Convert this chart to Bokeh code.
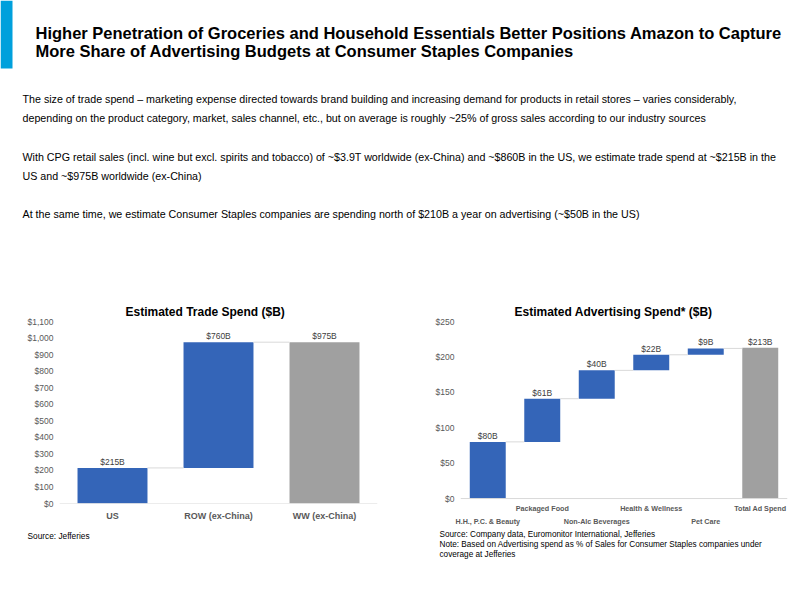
from bokeh.plotting import figure
from bokeh.layouts import column, row
from bokeh.models import Range1d, Label, FixedTicker, LinearAxis, NumeralTickFormatter, Span
from bokeh.embed import file_html
from bokeh.resources import INLINE
from bokeh.core.properties import value
import numpy as np

FONT = "Liberation Sans"
BLUE = "#3465B8"
GRAY = "#A0A0A0"
CONN = "#D9D9D9"
TICKC = "#595959"
LABC = "#404040"
ACCENT = "#00A0DC"

# ---------------- data ----------------
title_lines = [
    "Higher Penetration of Groceries and Household Essentials Better Positions Amazon to Capture",
    "More Share of Advertising Budgets at Consumer Staples Companies",
]
body_lines = [
    "The size of trade spend \u2013 marketing expense directed towards brand building and increasing demand for products in retail stores \u2013 varies considerably,",
    "depending on the product category, market, sales channel, etc., but on average is roughly ~25% of gross sales according to our industry sources",
    "With CPG retail sales (incl. wine but excl. spirits and tobacco) of ~$3.9T worldwide (ex-China) and ~$860B in the US, we estimate trade spend at ~$215B in the",
    "US and ~$975B worldwide (ex-China)",
    "At the same time, we estimate Consumer Staples companies are spending north of $210B a year on advertising (~$50B in the US)",
]

trade_title = "Estimated Trade Spend ($B)"
trade_cats = ["US", "ROW (ex-China)", "WW (ex-China)"]
trade_steps = [215, 760]
trade_total = 975
trade_ticks = [0, 100, 200, 300, 400, 500, 600, 700, 800, 900, 1000, 1100]
trade_source = ["Source: Jefferies"]

ad_title = "Estimated Advertising Spend* ($B)"
ad_cats = ["H.H., P.C. & Beauty", "Packaged Food", "Non-Alc Beverages",
           "Health & Wellness", "Pet Care", "Total Ad Spend"]
ad_steps = [80, 61, 40, 22, 9]
ad_total = 213
ad_ticks = [0, 50, 100, 150, 200, 250]
ad_source = [
    "Source: Company data, Euromonitor International, Jefferies",
    "Note: Based on Advertising spend as % of Sales for Consumer Staples companies under",
    "coverage at Jefferies",
]


def blank_fig(w, h, y0, y1):
    p = figure(width=w, height=h, x_range=Range1d(0, w), y_range=Range1d(y1, y0),
               output_backend="svg", toolbar_location=None,
               x_axis_location=None, y_axis_location=None,
               min_border_left=0, min_border_right=0, min_border_top=0, min_border_bottom=0)
    p.grid.visible = False
    p.outline_line_color = None
    p.background_fill_color = "white"
    p.border_fill_color = "white"
    return p


def waterfall(w, h, cats, steps, total, ticks, y_start, bw, borders, title, title_offset,
              cat_font_size, stagger):
    n = len(cats)
    steps_a = np.array(steps)
    tops = np.cumsum(steps_a)
    bottoms = tops - steps_a
    xs = np.arange(n)
    p = figure(width=w, height=h, x_range=Range1d(-0.5, n - 0.5),
               y_range=Range1d(y_start, ticks[-1]),
               output_backend="svg", toolbar_location=None, x_axis_location=None,
               min_border_left=borders[0], min_border_right=borders[1],
               min_border_top=borders[2], min_border_bottom=borders[3])
    p.grid.visible = False
    p.outline_line_color = None
    p.background_fill_color = "white"
    p.border_fill_color = "white"

    p.title.text = title
    p.title.align = "left"
    p.title.offset = title_offset
    p.title.standoff = 6
    p.title.text_font = FONT
    p.title.text_font_size = "12px"
    p.title.text_font_style = "bold"
    p.title.text_color = "#000000"

    ya = p.yaxis[0]
    ya.ticker = FixedTicker(ticks=ticks)
    ya.formatter = NumeralTickFormatter(format="$0,0")
    ya.axis_line_color = None
    ya.major_tick_line_color = None
    ya.minor_tick_line_color = None
    ya.major_tick_out = 0
    ya.major_tick_in = 0
    ya.major_label_standoff = 6
    ya.major_label_text_font = FONT
    ya.major_label_text_font_size = "8.5px"
    ya.major_label_text_color = TICKC

    # baseline at zero
    p.add_layout(Span(location=0, dimension="width", line_color=CONN, line_width=1))

    # bars
    p.vbar(x=xs[:-1], bottom=bottoms, top=tops, width=bw, fill_color=BLUE, line_color=None)
    p.vbar(x=[xs[-1]], bottom=[0], top=[total], width=bw, fill_color=GRAY, line_color=None)

    # connectors
    p.segment(x0=xs[:-1] + bw / 2, y0=tops, x1=xs[:-1] + 1 - bw / 2, y1=tops,
              line_color=CONN, line_width=1)

    # data labels
    lab_y = list(tops) + [total]
    lab_t = [f"${v}B" for v in steps] + [f"${total}B"]
    p.text(x=xs, y=lab_y, text=lab_t, text_align="center", text_baseline="bottom",
           y_offset=-1, text_font=value(FONT), text_font_size="8.5px", text_color=LABC)

    # category axes
    if not stagger:
        groups = [list(xs)]
        standoffs = [7]
    else:
        groups = [list(xs[1::2]), list(xs[0::2])]
        standoffs = [0, 1]
    for gi, g in enumerate(groups):
        ax = LinearAxis(ticker=FixedTicker(ticks=[int(i) for i in g]),
                        major_label_overrides={int(i): cats[int(i)] for i in g})
        ax.axis_line_color = None
        ax.major_tick_line_color = None
        ax.minor_tick_line_color = None
        ax.major_tick_out = 0
        ax.major_tick_in = 0
        ax.major_label_standoff = standoffs[gi]
        ax.major_label_text_font = FONT
        ax.major_label_text_font_size = cat_font_size
        ax.major_label_text_font_style = "bold"
        ax.major_label_text_color = TICKC
        p.add_layout(ax, "below")
    return p


# ---------------- top text ----------------
top = blank_fig(800, 290, 0, 290)
top.quad(left=[0], right=[12], top=[0], bottom=[68], fill_color=ACCENT, line_color=None)
for t, yb in zip(title_lines, [32, 50]):
    top.add_layout(Label(x=35, y=yb, text=t, text_font=FONT, text_font_size="16.5px",
                         text_font_style="bold", text_color="#000000",
                         text_baseline="alphabetic"))
for t, yc in zip(body_lines, [98, 117, 156, 175, 213]):
    top.add_layout(Label(x=22, y=yc, text=t, text_font=FONT, text_font_size="10.7px",
                         text_color="#000000", text_baseline="middle"))

# ---------------- charts ----------------
c1 = waterfall(395, 238, trade_cats, trade_steps, trade_total, trade_ticks, 0, 0.66,
               (59, 18, 31, 23), trade_title, 66, "9px", False)
# chart 2's zero line sits 5px above the shared frame bottom
c2 = waterfall(405, 238, ad_cats, ad_steps, ad_total, ad_ticks, -7, 0.66,
               (65, 13, 31, 23), ad_title, 54, "7.2px", True)

# ---------------- bottom notes ----------------
bot = blank_fig(800, 62, 528, 590)
for t, yc in zip(trade_source, [535]):
    bot.add_layout(Label(x=27, y=yc, text=t, text_font=FONT, text_font_size="8.3px",
                         text_color="#000000", text_baseline="middle"))
for t, yc in zip(ad_source, [534, 544, 554]):
    bot.add_layout(Label(x=439, y=yc, text=t, text_font=FONT, text_font_size="8.2px",
                         text_color="#000000", text_baseline="middle"))

layout = column(top, row(c1, c2), bot)
open("out.html", "w").write(file_html(layout, INLINE))
